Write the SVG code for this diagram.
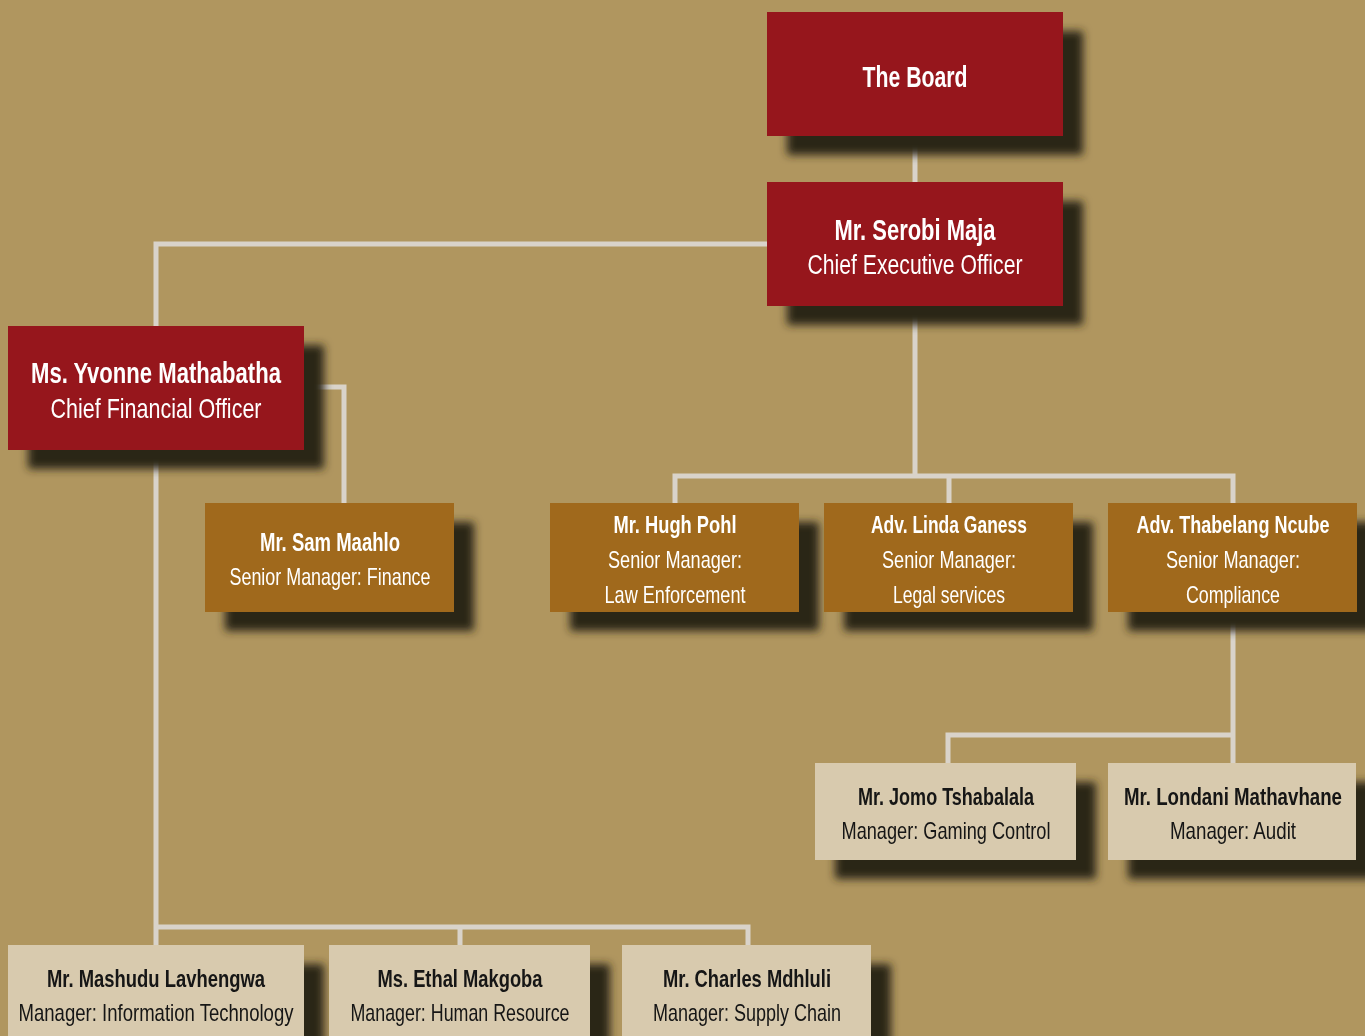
<svg xmlns="http://www.w3.org/2000/svg" width="1365" height="1036" viewBox="0 0 1365 1036">
<defs>
<filter id="sh" x="-10%" y="-10%" width="135%" height="160%">
<feGaussianBlur in="SourceAlpha" stdDeviation="4.5" result="b"/>
<feOffset in="b" dx="20" dy="19" result="o"/>
<feFlood flood-color="#2c2719"/>
<feComposite in2="o" operator="in" result="s"/>
<feMerge><feMergeNode in="s"/><feMergeNode in="SourceGraphic"/></feMerge>
</filter>
<style>
.red{fill:#96151b}
.org{fill:#a0691a}
.bei{fill:#d8caae}
.c{fill:none;stroke:#d9d3ca;stroke-width:5}
text{font-family:"Liberation Sans",Arial,sans-serif;text-anchor:middle}
.w{fill:#ffffff}
.k{fill:#141414}
.b{font-weight:bold}
</style>
</defs>
<rect width="1365" height="1036" fill="#b0965f"/>
<g id="connectors" class="c">
<path d="M915 136V182"/>
<path d="M767 244H156V326"/>
<path d="M304 387H344V503"/>
<path d="M915 306V476M675 503V476H1233V503M949 476V503"/>
<path d="M1233 612V735H948V763M1233 735V763"/>
<path d="M156 450V945M156 927H748V945M460 927V945"/>
</g>
<g id="board" filter="url(#sh)">
<rect class="red" x="767" y="12" width="296" height="124"/>
<text class="w b" x="915" y="87" font-size="30" textLength="105" lengthAdjust="spacingAndGlyphs">The Board</text>
</g>
<g id="ceo" filter="url(#sh)">
<rect class="red" x="767" y="182" width="296" height="124"/>
<text class="w b" x="915" y="240" font-size="30" textLength="161" lengthAdjust="spacingAndGlyphs">Mr. Serobi Maja</text>
<text class="w" x="915" y="274" font-size="27" textLength="215" lengthAdjust="spacingAndGlyphs">Chief Executive Officer</text>
</g>
<g id="cfo" filter="url(#sh)">
<rect class="red" x="8" y="326" width="296" height="124"/>
<text class="w b" x="156" y="383" font-size="30" textLength="250" lengthAdjust="spacingAndGlyphs">Ms. Yvonne Mathabatha</text>
<text class="w" x="156" y="418" font-size="28" textLength="211" lengthAdjust="spacingAndGlyphs">Chief Financial Officer</text>
</g>
<g id="sam" filter="url(#sh)">
<rect class="org" x="205" y="503" width="249" height="109"/>
<text class="w b" x="330" y="551" font-size="25" textLength="140" lengthAdjust="spacingAndGlyphs">Mr. Sam Maahlo</text>
<text class="w" x="330" y="585" font-size="24" textLength="201" lengthAdjust="spacingAndGlyphs">Senior Manager: Finance</text>
</g>
<g id="hugh" filter="url(#sh)">
<rect class="org" x="550" y="503" width="249" height="109"/>
<text class="w b" x="675" y="533" font-size="24" textLength="123" lengthAdjust="spacingAndGlyphs">Mr. Hugh Pohl</text>
<text class="w" x="675" y="568" font-size="24" textLength="134" lengthAdjust="spacingAndGlyphs">Senior Manager:</text>
<text class="w" x="675" y="603" font-size="24" textLength="141" lengthAdjust="spacingAndGlyphs">Law Enforcement</text>
</g>
<g id="linda" filter="url(#sh)">
<rect class="org" x="824" y="503" width="249" height="109"/>
<text class="w b" x="949" y="533" font-size="24" textLength="156" lengthAdjust="spacingAndGlyphs">Adv. Linda Ganess</text>
<text class="w" x="949" y="568" font-size="24" textLength="134" lengthAdjust="spacingAndGlyphs">Senior Manager:</text>
<text class="w" x="949" y="603" font-size="24" textLength="112" lengthAdjust="spacingAndGlyphs">Legal services</text>
</g>
<g id="thabelang" filter="url(#sh)">
<rect class="org" x="1108" y="503" width="249" height="109"/>
<text class="w b" x="1233" y="533" font-size="24" textLength="193" lengthAdjust="spacingAndGlyphs">Adv. Thabelang Ncube</text>
<text class="w" x="1233" y="568" font-size="24" textLength="134" lengthAdjust="spacingAndGlyphs">Senior Manager:</text>
<text class="w" x="1233" y="603" font-size="24" textLength="94" lengthAdjust="spacingAndGlyphs">Compliance</text>
</g>
<g id="jomo" filter="url(#sh)">
<rect class="bei" x="815" y="763" width="261" height="97"/>
<text class="k b" x="946" y="805" font-size="24" textLength="176" lengthAdjust="spacingAndGlyphs">Mr. Jomo Tshabalala</text>
<text class="k" x="946" y="839" font-size="24" textLength="209" lengthAdjust="spacingAndGlyphs">Manager: Gaming Control</text>
</g>
<g id="londani" filter="url(#sh)">
<rect class="bei" x="1108" y="763" width="248" height="97"/>
<text class="k b" x="1233" y="805" font-size="24" textLength="218" lengthAdjust="spacingAndGlyphs">Mr. Londani Mathavhane</text>
<text class="k" x="1233" y="839" font-size="24" textLength="126" lengthAdjust="spacingAndGlyphs">Manager: Audit</text>
</g>
<g id="mashudu" filter="url(#sh)">
<rect class="bei" x="8" y="945" width="296" height="100"/>
<text class="k b" x="156" y="987" font-size="24" textLength="218" lengthAdjust="spacingAndGlyphs">Mr. Mashudu Lavhengwa</text>
<text class="k" x="156" y="1021" font-size="24" textLength="275" lengthAdjust="spacingAndGlyphs">Manager: Information Technology</text>
</g>
<g id="ethal" filter="url(#sh)">
<rect class="bei" x="329" y="945" width="261" height="100"/>
<text class="k b" x="460" y="987" font-size="24" textLength="165" lengthAdjust="spacingAndGlyphs">Ms. Ethal Makgoba</text>
<text class="k" x="460" y="1021" font-size="24" textLength="219" lengthAdjust="spacingAndGlyphs">Manager: Human Resource</text>
</g>
<g id="charles" filter="url(#sh)">
<rect class="bei" x="622" y="945" width="249" height="100"/>
<text class="k b" x="747" y="987" font-size="24" textLength="168" lengthAdjust="spacingAndGlyphs">Mr. Charles Mdhluli</text>
<text class="k" x="747" y="1021" font-size="24" textLength="188" lengthAdjust="spacingAndGlyphs">Manager: Supply Chain</text>
</g>
</svg>
